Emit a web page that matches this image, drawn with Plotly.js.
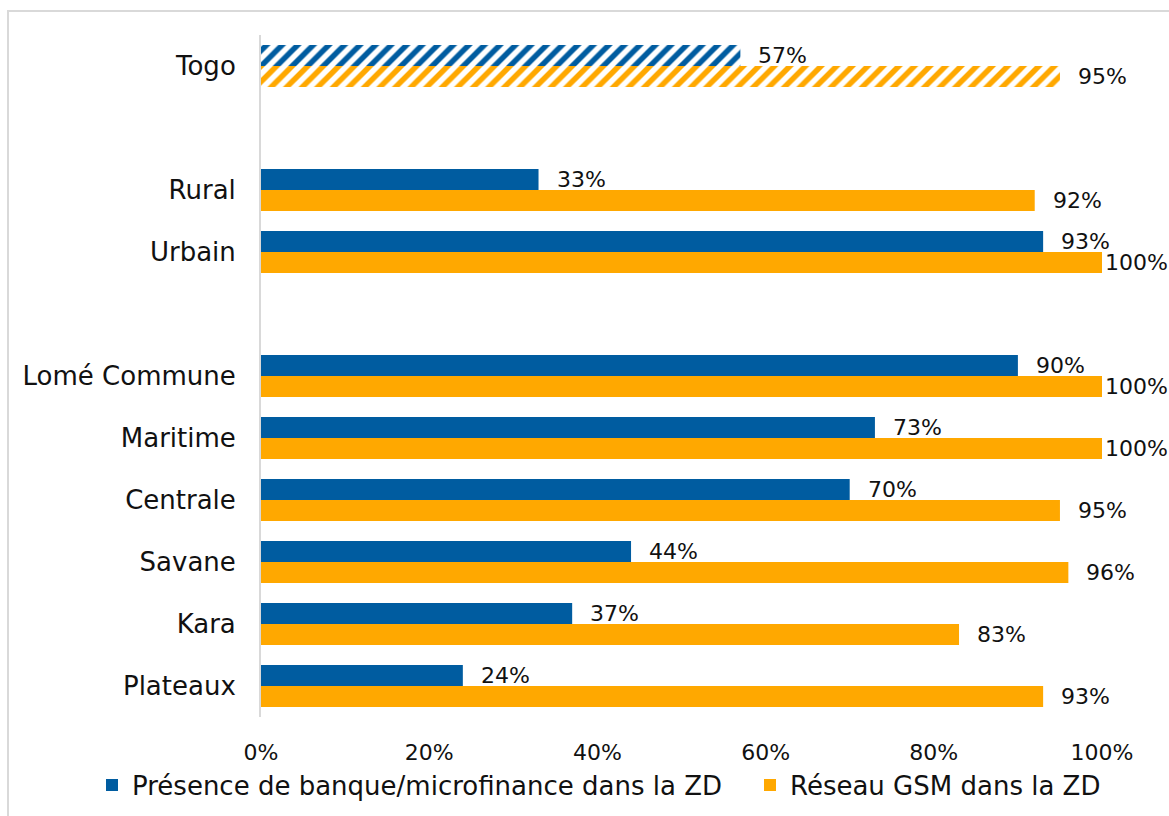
<!DOCTYPE html>
<html>
<head>
<meta charset="utf-8">
<script src="https://cdn.plot.ly/plotly-3.0.1.min.js"></script>
<style>
  html, body { margin: 0; padding: 0; background: #ffffff; overflow: hidden; }
  #frame { position: absolute; left: 7px; top: 10px; width: 1300px; height: 900px;
           border-left: 2px solid #d9d9d9; border-top: 2px solid #d9d9d9; box-sizing: border-box; }
  #chart { position: absolute; left: 0; top: 0; width: 1169px; height: 816px; }
</style>
</head>
<body>
<div id="frame"></div>
<div id="chart"></div>
<script>
// Data (bottom-to-top data order; display order set by categoryOrder)
const categories = ['Plateaux', 'Kara', 'Savane', 'Centrale', 'Maritime', 'Lomé Commune', 'Urbain', 'Rural', 'Togo'];
const banque = [24, 37, 44, 70, 73, 90, 93, 33, 57];
const gsm = [93, 83, 96, 95, 100, 100, 100, 92, 95];
const hatched = [false, false, false, false, false, false, false, false, true];
const categoryOrder = ['Togo', 'gap1', 'Rural', 'Urbain', 'gap2', 'Lomé Commune', 'Maritime', 'Centrale', 'Savane', 'Kara', 'Plateaux'];
const tickLabels = ['Togo', 'Rural', 'Urbain', 'Lomé Commune', 'Maritime', 'Centrale', 'Savane', 'Kara', 'Plateaux'];
const xTicks = [0, 20, 40, 60, 80, 100];
const xTickLabels = ['0%', '20%', '40%', '60%', '80%', '100%'];
const seriesNames = ['Présence de banque/microfinance dans la ZD', 'Réseau GSM dans la ZD'];

const BLUE = '#005CA0';
const ORANGE = '#FFA800';
const FONT = 'DejaVu Sans, Arial, sans-serif';

function barTrace(name, values, color, legendId) {
  return {
    type: 'bar', orientation: 'h', name: name, legend: legendId,
    y: categories, x: values,
    marker: {
      color: color,
      line: { width: 0 },
      pattern: {
        shape: hatched.map(h => h ? '/' : ''),
        size: 11, solidity: 0.5, fillmode: 'replace'
      }
    },
    hoverinfo: 'skip'
  };
}

const traces = [
  barTrace(seriesNames[0], banque, BLUE, 'legend'),
  barTrace(seriesNames[1], gsm, ORANGE, 'legend2')
];

const annotations = [];
function addLabels(values, yshift) {
  values.forEach((v, i) => {
    annotations.push({
      x: v, y: categories[i], xref: 'x', yref: 'y',
      text: v + '%', showarrow: false,
      xanchor: 'left', yanchor: 'middle',
      xshift: v >= 100 ? 1 : 16, yshift: yshift,
      font: { family: FONT, size: 22, color: '#111111' }
    });
  });
}
addLabels(banque, 10.5);
addLabels(gsm, -10.5);

function legendBox(xLeft) {
  return {
    orientation: 'h', xref: 'container', yref: 'container',
    x: xLeft, xanchor: 'left', y: 0.038, yanchor: 'middle',
    bgcolor: 'rgba(0,0,0,0)', borderwidth: 0,
    font: { family: FONT, size: 26, color: '#111111' },
    itemclick: false, itemdoubleclick: false
  };
}

const layout = {
  width: 1169, height: 816,
  margin: { l: 261, r: 67, t: 35, b: 99 },
  paper_bgcolor: 'rgba(0,0,0,0)',
  plot_bgcolor: 'rgba(0,0,0,0)',
  barmode: 'group', bargap: 0.32, bargroupgap: 0,
  font: { family: FONT, color: '#111111' },
  xaxis: {
    range: [0, 100], tickmode: 'array', tickvals: xTicks, ticktext: xTickLabels,
    showgrid: false, zeroline: false, showline: false, ticks: '',
    tickfont: { family: FONT, size: 22, color: '#111111' },
    ticklabelstandoff: 20,
    fixedrange: true
  },
  yaxis: {
    type: 'category', categoryorder: 'array', categoryarray: categoryOrder,
    range: [categoryOrder.length - 0.5, -0.5],
    tickmode: 'array', tickvals: tickLabels, ticktext: tickLabels,
    showgrid: false, zeroline: false,
    showline: true, linecolor: '#d9d9d9', linewidth: 2,
    ticks: '', ticklabelstandoff: 18,
    tickfont: { family: FONT, size: 26, color: '#111111' },
    fixedrange: true
  },
  showlegend: true,
  legend: legendBox(92 / 1169),
  legend2: legendBox(750 / 1169),
  annotations: annotations
};

Plotly.newPlot('chart', traces, layout, { displayModeBar: false, staticPlot: true });
</script>
</body>
</html>
